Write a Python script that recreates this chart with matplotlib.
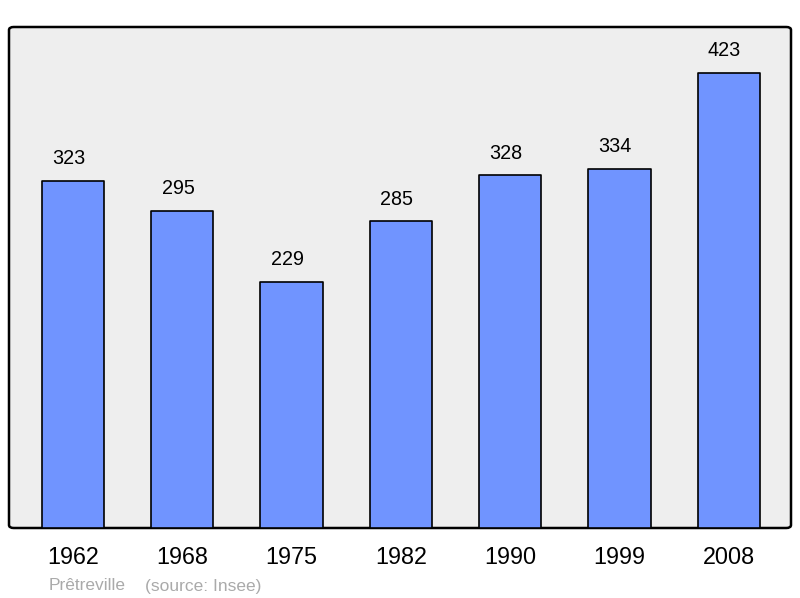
import matplotlib.pyplot as plt
from matplotlib.patches import FancyBboxPatch

# population per census year
years = ['1962', '1968', '1975', '1982', '1990', '1999', '2008']
population = [323, 295, 229, 285, 328, 334, 423]

plt.rcParams['font.family'] = ['Liberation Sans', 'DejaVu Sans']

fig = plt.figure(figsize=(8, 5.98), dpi=100)
ax = fig.add_axes([9 / 800, 1 - 528 / 598, 782 / 800, 501 / 598])
ax.set_facecolor('none')

x = range(len(years))
bars = ax.bar(x, population, width=0.57, color='#7094ff', edgecolor='black',
              linewidth=1.2, joinstyle='round', zorder=2)

# value labels sit a little left of the bar centre, as in the original
for i, v in enumerate(population):
    ax.annotate(str(v), xy=(i, v), xytext=(-3, 15.8), textcoords='offset points',
                ha='center', va='center', fontsize=14.2)

ax.set_xlim(-0.585, 6.57)
ax.set_ylim(0, 465.7)
ax.set_yticks([])
ax.set_xticks(list(x))
ax.set_xticklabels(years, fontsize=16.8)
ax.tick_params(axis='x', length=0, pad=13)
for s in ax.spines.values():
    s.set_visible(False)

# rounded frame with grey fill
frame = FancyBboxPatch((0, 0), 1, 1, boxstyle='round,pad=0,rounding_size=0.006',
                       transform=ax.transAxes, facecolor='#eeeeee',
                       edgecolor='black', linewidth=1.8, zorder=0, clip_on=False)
ax.add_patch(frame)

fig.text(49 / 800, 1 - 586 / 598, 'Prêtreville', color='#aaaaaa', fontsize=12.5,
         va='center', ha='left')
fig.text(145 / 800, 1 - 586 / 598, '(source: Insee)', color='#aaaaaa', fontsize=12.5,
         va='center', ha='left')

fig.savefig('out.png', dpi=100, facecolor='white')
